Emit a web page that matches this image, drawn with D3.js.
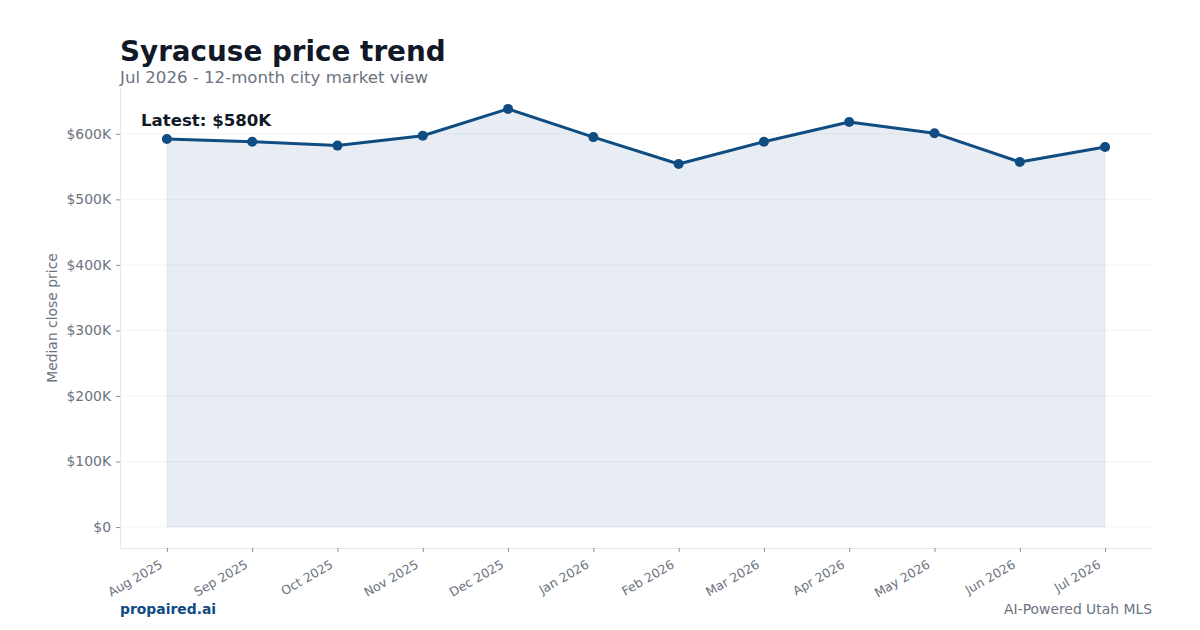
<!DOCTYPE html>
<html>
<head>
<meta charset="utf-8">
<script src="https://cdn.jsdelivr.net/npm/d3@7"></script>
<style>
  body { margin: 0; background: #fff; }
  svg { font-family: "DejaVu Sans", sans-serif; display: block; }
</style>
</head>
<body>
<script>
const WIDTH = 1200;
const HEIGHT = 630;

var months = ['Aug 2025','Sep 2025','Oct 2025','Nov 2025','Dec 2025','Jan 2026',
              'Feb 2026','Mar 2026','Apr 2026','May 2026','Jun 2026','Jul 2026'];
var prices = [592000, 588000, 582000, 597000, 638000, 595000,
              554000, 588000, 618000, 601000, 557000, 580000];
var yTicks = [0, 100000, 200000, 300000, 400000, 500000, 600000];

// plot box
var plotLeft = 120, plotRight = 1152, plotTop = 88, plotBottom = 548;

var svg = d3.select('body').append('svg')
    .attr('width', WIDTH)
    .attr('height', HEIGHT);

var xScale = d3.scaleLinear()
    .domain([-0.55, months.length - 1 + 0.55])
    .range([plotLeft, plotRight]);

var ymax = d3.max(prices);
var pad = ymax * 0.05;
var yScale = d3.scaleLinear()
    .domain([-pad, ymax + pad])
    .range([plotBottom, plotTop]);

// grid
svg.append('g').selectAll('line')
    .data(yTicks)
    .enter().append('line')
    .attr('x1', plotLeft).attr('x2', plotRight)
    .attr('y1', function (d) { return yScale(d); })
    .attr('y2', function (d) { return yScale(d); })
    .attr('stroke', '#f1f2f4')
    .attr('stroke-width', 0.8);

// area + line
var area = d3.area()
    .x(function (d, i) { return xScale(i); })
    .y0(yScale(0))
    .y1(function (d) { return yScale(d); });
var line = d3.line()
    .x(function (d, i) { return xScale(i); })
    .y(function (d) { return yScale(d); });

svg.append('path')
    .datum(prices)
    .attr('d', area)
    .attr('fill', '#0f4c81')
    .attr('fill-opacity', 0.1)
    .attr('stroke', '#0f4c81')
    .attr('stroke-opacity', 0.06);

svg.append('path')
    .datum(prices)
    .attr('d', line)
    .attr('fill', 'none')
    .attr('stroke', '#0f4c81')
    .attr('stroke-width', 3)
    .attr('stroke-linejoin', 'round');

svg.append('g').selectAll('circle')
    .data(prices)
    .enter().append('circle')
    .attr('cx', function (d, i) { return xScale(i); })
    .attr('cy', function (d) { return yScale(d); })
    .attr('r', 5)
    .attr('fill', '#0f4c81');

// axes
var yAxis = d3.axisLeft(yScale)
    .tickValues(yTicks)
    .tickSize(4)
    .tickPadding(5)
    .tickFormat(function (d) { return d === 0 ? '$0' : '$' + (d / 1000) + 'K'; });
var xAxis = d3.axisBottom(xScale)
    .tickValues(d3.range(months.length))
    .tickSize(4)
    .tickFormat(function (d) { return months[d]; });

var gy = svg.append('g')
    .attr('transform', 'translate(' + plotLeft + ',0)')
    .call(yAxis);
var gx = svg.append('g')
    .attr('transform', 'translate(0,' + plotBottom + ')')
    .call(xAxis);

[gx, gy].forEach(function (g) {
    g.select('.domain').attr('stroke', '#e5e7eb').attr('stroke-width', 1);
    g.selectAll('.tick line').attr('stroke', '#6b7280').attr('stroke-width', 0.8);
    g.selectAll('.tick text').attr('fill', '#6b7280').attr('font-size', 13.9)
        .attr('font-family', '"DejaVu Sans", sans-serif');
});
gy.select('.domain').attr('d', 'M0.5,' + plotTop + 'V' + plotBottom);
gx.select('.domain').attr('d', 'M' + plotLeft + ',0.5H' + plotRight);

gx.selectAll('.tick text')
    .attr('font-size', 12.5)
    .attr('text-anchor', 'end')
    .attr('dy', 0)
    .attr('transform', 'translate(-4,19) rotate(-30)')
    .attr('y', 0)
    .attr('x', 0);

svg.append('text')
    .attr('transform', 'translate(57,' + ((plotTop + plotBottom) / 2) + ') rotate(-90)')
    .attr('text-anchor', 'middle')
    .attr('fill', '#6b7280')
    .attr('font-size', 13.9)
    .text('Median close price');

// titles
svg.append('text')
    .attr('x', 120).attr('y', 61)
    .attr('fill', '#111827')
    .attr('font-size', 27.8)
    .attr('font-weight', 'bold')
    .text('Syracuse price trend');
svg.append('text')
    .attr('x', 120).attr('y', 83)
    .attr('fill', '#6b7280')
    .attr('font-size', 16.6)
    .text('Jul 2026 - 12-month city market view');

svg.append('text')
    .attr('x', 141).attr('y', 126)
    .attr('fill', '#111827')
    .attr('font-size', 16.6)
    .attr('font-weight', 'bold')
    .text('Latest: $' + Math.round(prices[prices.length - 1] / 1000) + 'K');

// footer
svg.append('text')
    .attr('x', 120).attr('y', 614)
    .attr('fill', '#0f4c81')
    .attr('font-size', 13.9)
    .attr('font-weight', 'bold')
    .text('propaired.ai');
svg.append('text')
    .attr('x', 1152).attr('y', 614)
    .attr('text-anchor', 'end')
    .attr('fill', '#6b7280')
    .attr('font-size', 13.9)
    .text('AI-Powered Utah MLS');
</script>
</body>
</html>
